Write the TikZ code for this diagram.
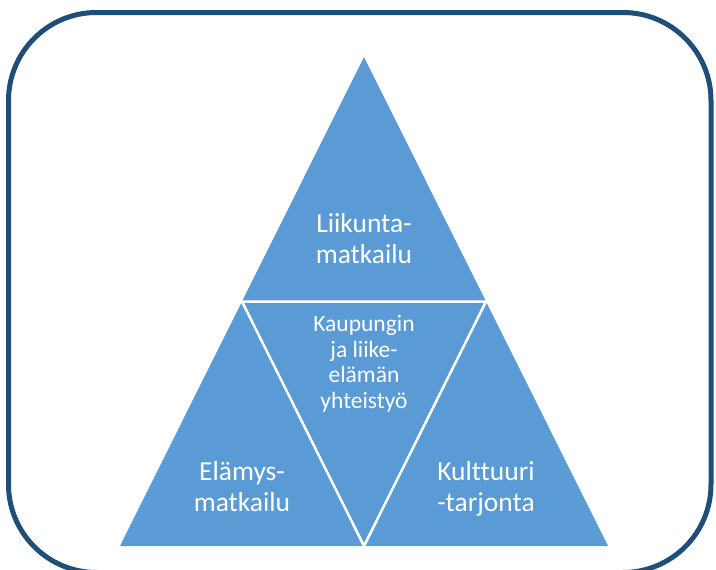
\documentclass[tikz,border=0pt]{standalone}
\usepackage{fontspec}
\setmainfont{Carlito}[Ligatures=NoCommon]
\usetikzlibrary{positioning}
\definecolor{framecolor}{HTML}{1F4E79}
\definecolor{trifill}{HTML}{5B9BD5}
\tikzset{myframe/.style = {draw=framecolor,line width=5pt,rounded corners=88pt},
	mytriangle/.style = {draw=white,fill=#1,line width=2.5pt,line join=miter},
	biglabel/.style = {text=white,align=center,font=\fontsize{27.5}{31}\selectfont},
	smalllabel/.style = {text=white,align=center,font=\fontsize{23.5}{25.5}\selectfont}}
\NewDocumentCommand{\ftriangle}{O{trifill} m m m}{%
	\path[mytriangle=#1] (#2) -- (#3) -- (#4) -- cycle;
}

\begin{document}
\begin{tikzpicture}[x=1pt,y=-1pt]
\useasboundingbox (0,0) rectangle (716,570);
\draw[myframe] (8.5,12.5) rectangle (711,572.5);
% corners of the pyramid
\coordinate (apex) at (364,57);
\coordinate (botleft) at (120,546);
\coordinate (botright) at (608,546);
\coordinate (midleft) at (242,301.5);
\coordinate (midright) at (486,301.5);
\coordinate (midbot) at (364,546);
\fill[trifill] (apex) -- (botleft) -- (botright) -- cycle;
\ftriangle{midleft}{midright}{midbot}
% labels
\node[biglabel] (liikunta) at (364,239) {Liikunta-\\matkailu};
\node[smalllabel] (kaupunki) at (364,364) {Kaupungin\\ja liike-\\elämän\\yhteistyö};
\node[biglabel] (elamys) at (242,486.5) {Elämys-\\matkailu};
\node[biglabel] (kulttuuri) at (486,489) {Kulttuuri\\-tarjonta};
\end{tikzpicture}
\end{document}
